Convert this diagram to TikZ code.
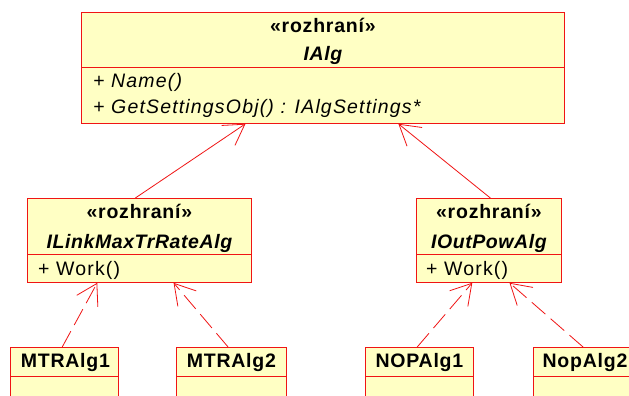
\documentclass[tikz,border=0pt]{standalone}
\usepackage{fontspec}
\newfontfamily\umlfont{Liberation Sans}[LetterSpace=6,
  BoldFeatures={LetterSpace=4},
  ItalicFeatures={LetterSpace=6},
  BoldItalicFeatures={LetterSpace=3}]
\usetikzlibrary{arrows.meta,calc}
\definecolor{boxfill}{RGB}{255,255,196}
\definecolor{boxline}{RGB}{240,20,20}
\newcommand{\umlsize}{\fontsize{19.5}{22}\selectfont}
\begin{document}
\begin{tikzpicture}[x=1pt,y=-1pt,
  box/.style={draw=boxline,fill=boxfill,line width=0.8pt,rectangle,inner sep=0pt,anchor=north west},
  txt/.style={inner sep=0pt,anchor=base,font=\umlfont\umlsize},
  ltxt/.style={txt,anchor=base west},
  btxt/.style={txt,font=\umlfont\bfseries\umlsize},
  bitxt/.style={txt,font=\umlfont\bfseries\itshape\umlsize},
  itxt/.style={ltxt,font=\umlfont\itshape\umlsize},
  sep/.style={draw=boxline,line width=0.8pt},
  conn/.style={draw=boxline,line width=0.8pt,-{Straight Barb[length=20pt,width=24pt]}},
  dconn/.style={conn,dash pattern=on 18pt off 7pt}]
\clip (0,0) rectangle (629,396);
\fill[white] (0,0) rectangle (629,396);
% IAlg
\node[box,minimum width=483pt,minimum height=111pt] (ialg) at (81,12) {};
\draw[sep] ($(ialg.north west)+(0,55)$) -- ($(ialg.north east)+(0,55)$);
\node[btxt] (ialgst) at ($(ialg.north)+(0,21)$) {«rozhraní»};
\node[bitxt] (ialgname) at ($(ialg.north)+(0,48)$) {IAlg};
\node[itxt] (ialgm1) at ($(ialg.north west)+(12,75)$) {+ Name()};
\node[itxt] (ialgm2) at ($(ialg.north west)+(12,101)$) {+ GetSettingsObj() : IAlgSettings*};
% ILinkMaxTrRateAlg
\node[box,minimum width=224pt,minimum height=84pt] (ilink) at (27,198) {};
\draw[sep] ($(ilink.north west)+(0,56)$) -- ($(ilink.north east)+(0,56)$);
\node[btxt] (ilinkst) at ($(ilink.north)+(0,20)$) {«rozhraní»};
\node[bitxt] (ilinkname) at ($(ilink.north)+(0,50)$) {ILinkMaxTrRateAlg};
\node[ltxt] (ilinkm) at ($(ilink.north west)+(11,77)$) {+ Work()};
% IOutPowAlg
\node[box,minimum width=145pt,minimum height=84pt] (iout) at (416,198) {};
\draw[sep] ($(iout.north west)+(0,56)$) -- ($(iout.north east)+(0,56)$);
\node[btxt] (ioutst) at ($(iout.north)+(0,20)$) {«rozhraní»};
\node[bitxt] (ioutname) at ($(iout.north)+(0,50)$) {IOutPowAlg};
\node[ltxt] (ioutm) at ($(iout.north west)+(10,77)$) {+ Work()};
% leaf classes
\node[box,minimum width=108pt,minimum height=70pt] (mtr1) at (10,347) {};
\node[box,minimum width=110pt,minimum height=70pt] (mtr2) at (176,347) {};
\node[box,minimum width=108pt,minimum height=70pt] (nop1) at (365,347) {};
\node[box,minimum width=108pt,minimum height=70pt] (nop2) at (533,347) {};
\foreach \n in {mtr1,mtr2,nop1,nop2}{
  \draw[sep] ($(\n.north west)+(0,29)$) -- ($(\n.north east)+(0,29)$);
}
\node[btxt] (mtr1name) at ($(mtr1.north)+(1,20)$) {MTRAlg1};
\node[btxt] (mtr2name) at ($(mtr2.north)+(0,20)$) {MTRAlg2};
\node[btxt] (nop1name) at ($(nop1.north)+(0,20)$) {NOPAlg1};
\node[btxt] (nop2name) at ($(nop2.north west)+(52,20)$) {NopAlg2};
% connectors
\draw[conn] ($(ilink.north west)!0.482!(ilink.north east)$) -- ($(ialg.south west)!0.34!(ialg.south east)$);
\draw[conn] ($(iout.north west)!0.51!(iout.north east)$) -- ($(ialg.south west)!0.656!(ialg.south east)$);
\draw[dconn] ($(mtr1.north west)!0.48!(mtr1.north east)$) -- ($(ilink.south west)!0.3125!(ilink.south east)$);
\draw[dconn] ($(mtr2.north west)!0.47!(mtr2.north east)$) -- ($(ilink.south west)!0.652!(ilink.south east)$);
\draw[dconn] ($(nop1.north west)!0.48!(nop1.north east)$) -- ($(iout.south west)!0.386!(iout.south east)$);
\draw[dconn] ($(nop2.north west)!0.46!(nop2.north east)$) -- ($(iout.south west)!0.641!(iout.south east)$);
\end{tikzpicture}
\end{document}
